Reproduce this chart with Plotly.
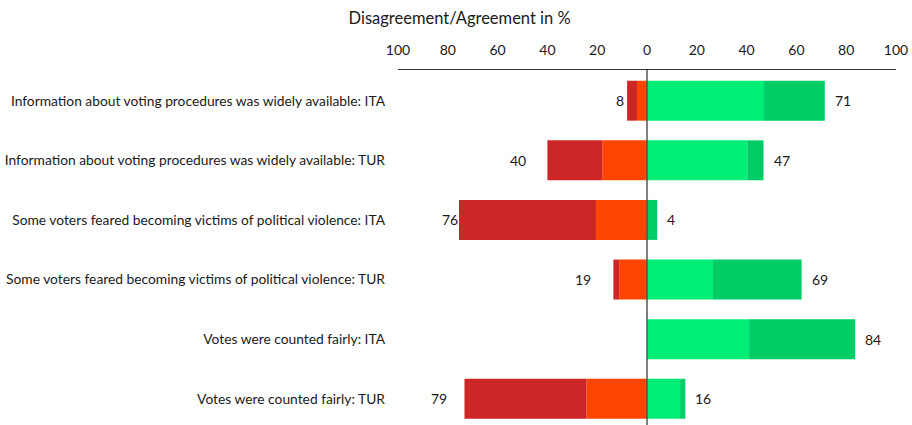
import plotly.graph_objects as go

categories = [
    "Information about voting procedures was widely available: ITA",
    "Information about voting procedures was widely available: TUR",
    "Some voters feared becoming victims of political violence: ITA",
    "Some voters feared becoming victims of political violence: TUR",
    "Votes were counted fairly: ITA",
    "Votes were counted fairly: TUR",
]
strongly_disagree = [4, 22, 55, 2.3, 0, 49]
disagree = [4, 18, 20.5, 11.2, 0, 24.3]
agree = [47, 40.3, 0, 26.5, 41, 13.3]
strongly_agree = [24.4, 6.5, 4.1, 35.6, 42.6, 2.1]
left_labels = [8, 40, 76, 19, None, 79]
right_labels = [71, 47, 4, 69, 84, 16]
tick_vals = [-100, -80, -60, -40, -20, 0, 20, 40, 60, 80, 100]
tick_text = ["100", "80", "60", "40", "20", "0", "20", "40", "60", "80", "100"]

FONT = "Lato"
C_SD = "#CD2626"
C_D = "#FF4500"
C_A = "#00EE76"
C_SA = "#00CD66"
outline = dict(width=0)

fig = go.Figure()
fig.add_trace(go.Bar(y=categories, x=[-v for v in disagree], orientation="h",
                     marker=dict(color=C_D, line=outline), width=0.67, name="Disagree"))
fig.add_trace(go.Bar(y=categories, x=[-v for v in strongly_disagree], orientation="h",
                     marker=dict(color=C_SD, line=outline), width=0.67, name="Strongly disagree"))
fig.add_trace(go.Bar(y=categories, x=agree, orientation="h",
                     marker=dict(color=C_A, line=outline), width=0.67, name="Agree"))
fig.add_trace(go.Bar(y=categories, x=strongly_agree, orientation="h",
                     marker=dict(color=C_SA, line=outline), width=0.67, name="Strongly agree"))

left_shift = [-7, -29, -9, -30, 0, -25]
for i, cat in enumerate(categories):
    neg_total = strongly_disagree[i] + disagree[i]
    pos_total = agree[i] + strongly_agree[i]
    if left_labels[i] is not None:
        fig.add_annotation(x=-neg_total, y=cat, text=str(left_labels[i]), showarrow=False,
                           xanchor="center", xshift=left_shift[i],
                           font=dict(family=FONT, size=14, color="#1a1a1a"))
    if right_labels[i] is not None:
        fig.add_annotation(x=pos_total, y=cat, text=str(right_labels[i]), showarrow=False,
                           xanchor="left", xshift=8,
                           font=dict(family=FONT, size=14, color="#1a1a1a"))

fig.add_shape(type="line", xref="x", yref="paper", x0=0, x1=0, y0=0, y1=1,
              line=dict(color="#555555", width=1.5), layer="above")

fig.update_layout(
    barmode="relative",
    width=912, height=425,
    margin=dict(l=398, r=16, t=70, b=0),
    plot_bgcolor="white", paper_bgcolor="white",
    showlegend=False,
    font=dict(family=FONT, size=14, color="#1a1a1a"),
    title=dict(text="Disagreement/Agreement in %", xref="container", x=0.504,
               y=1 - 18 / 425, yanchor="middle", xanchor="center",
               font=dict(family=FONT, size=16.5, color="#1a1a1a")),
    xaxis=dict(side="top", range=[-100, 100], tickvals=tick_vals, ticktext=tick_text,
               showgrid=False, zeroline=False, showline=True, linecolor="#333333",
               linewidth=1, ticks="", ticklabelstandoff=8,
               tickfont=dict(family=FONT, size=14, color="#1a1a1a")),
    yaxis=dict(categoryorder="array", categoryarray=categories, range=[5.44, -0.515],
               autorange=False, showgrid=False, zeroline=False, showline=False, ticks="",
               ticklabelstandoff=12, tickfont=dict(family=FONT, size=13.8, color="#1a1a1a")),
)

fig.write_html("out.html", config={"displayModeBar": False},
               post_script="document.body.style.margin='0';")
